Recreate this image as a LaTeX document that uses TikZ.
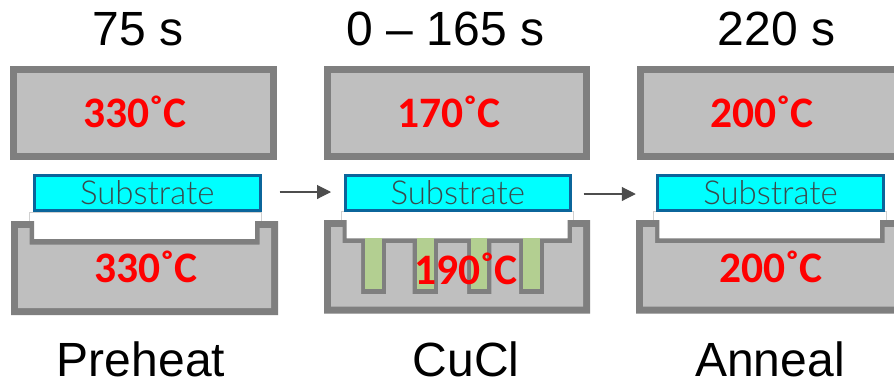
\documentclass[tikz,border=0pt]{standalone}
\usepackage{fontspec}
\setmainfont{Liberation Sans}
\newfontfamily\calib{Carlito}
\newfontfamily\sublight{Lato Light}
\usetikzlibrary{arrows.meta}
\definecolor{wallgray}{HTML}{7F7F7F}
\definecolor{bodygray}{HTML}{BFBFBF}
\definecolor{subedge}{HTML}{0B659B}
\definecolor{subfill}{HTML}{00FFFF}
\definecolor{subtext}{HTML}{3A4A4D}
\definecolor{slotgreen}{HTML}{B3CF91}
\definecolor{arrowgray}{HTML}{4D4D4D}
\definecolor{thinedge}{HTML}{D0D0D0}
\definecolor{pured}{HTML}{FF0000}
\tikzset{
  topbox/.style={draw=wallgray,fill=bodygray,line width=7pt,outer sep=0pt,inner sep=0pt,minimum height=87pt},
  subbox/.style={draw=subedge,fill=subfill,line width=3pt,outer sep=0pt,inner sep=0pt,minimum width=225.5pt,minimum height=35pt,
     font=\sublight\fontsize{33}{33}\selectfont,text=subtext},
  temp/.style={anchor=base,text=pured,inner sep=0pt,font=\calib\bfseries\fontsize{43.5}{43.5}\selectfont},
  head/.style={anchor=base,inner sep=0pt,font=\fontsize{48}{48}\selectfont},
  flow/.style={draw=arrowgray,line width=1.1pt,-{Triangle[length=14pt,width=14pt]}},
  outerwall/.style={fill=wallgray},
  innerbody/.style={fill=bodygray},
  thin/.style={draw=thinedge,line width=0.7pt},
  slot/.style={fill=slotgreen}
}
\begin{document}
\begin{tikzpicture}[x=1pt,y=-1pt]
\useasboundingbox (0,0) rectangle (894,381);
\clip (0,0) rectangle (894,381);
\fill[white] (0,0) rectangle (894,381);
% top boxes
\node[topbox,minimum width=260pt] (top1) at (143.5,113) {};
\node[topbox,minimum width=259pt] (top2) at (457,113) {};
\node[topbox,minimum width=259pt] (top3) at (770,113) {};
% lower body 1
\fill[outerwall] (11,221)--(34,221)--(34,239)--(255,239)--(255,221)--(278,221)--(278,315)--(11,315)--cycle;
\fill[innerbody] (18,228)--(29.5,228)--(29.5,244.5)--(259.5,244.5)--(259.5,228)--(271,228)--(271,308)--(18,308)--cycle;
\draw[thin] (29.5,221)--(29.5,212)--(261,212)--(261,221);
% lower body 2
\fill[outerwall] (324,220)--(346.7,220)--(346.7,238.3)--(567.7,238.3)--(567.7,220)--(590,220)--(590,313.5)--(324,313.5)--cycle;
\fill[innerbody] (331,227)--(342.5,227)--(342.5,243)--(361,243)--(361,294)--(386,294)--(386,243)--(412.7,243)--(412.7,294)--(438,294)--(438,243)--(467,243)--(467,294)--(491.3,294)--(491.3,243)--(519,243)--(519,294)--(544,294)--(544,243)--(572,243)--(572,227)--(583,227)--(583,306.5)--(331,306.5)--cycle;
\fill[slot] (365.3,238.3) rectangle (381.7,289.3);
\fill[slot] (417.3,238.3) rectangle (433.7,289.3);
\fill[slot] (471.3,238.3) rectangle (486.7,289.3);
\fill[slot] (523.3,238.3) rectangle (539.7,289.3);
\draw[thin] (341.5,220)--(341.5,211)--(573,211)--(573,220);
% lower body 3
\fill[outerwall] (636,220)--(659.3,220)--(659.3,238.3)--(880,238.3)--(880,220)--(903,220)--(903,313.5)--(636,313.5)--cycle;
\fill[innerbody] (643,227)--(655,227)--(655,243)--(884.5,243)--(884.5,227)--(896,227)--(896,306.5)--(643,306.5)--cycle;
\draw[thin] (653.3,220)--(653.3,211)--(886.5,211)--(886.5,220);
% substrates
\node[subbox] (sub1) at (147.25,193) {Substrate};
\node[subbox] (sub2) at (457.75,193) {Substrate};
\node[subbox] (sub3) at (770.5,193) {Substrate};
\draw[flow,shorten <=19.5pt,shorten >=14pt] ([yshift=1pt]sub1.east) -- ([yshift=1pt]sub2.west);
\draw[flow,shorten <=13pt,shorten >=22pt] ([yshift=-1pt]sub2.east) -- ([yshift=-1pt]sub3.west);
% temperatures
\node[temp] (t1) at (135,127) {330˚C};
\node[temp] (t2) at (449,127) {170˚C};
\node[temp] (t3) at (762,127) {200˚C};
\node[temp] (b1) at (146,282) {330˚C};
\node[temp] (b2) at (466,284) {190˚C};
\node[temp] (b3) at (771,282) {200˚C};
% headings
\node[head] (h1) at (138,45) {75 s};
\node[head] (h2) at (445.5,45) {0 – 165 s};
\node[head] (h3) at (776.5,45) {220 s};
\node[head] (c1) at (141,376) {Preheat};
\node[head] (c2) at (466,376) {CuCl};
\node[head] (c3) at (770,376) {Anneal};
\end{tikzpicture}
\end{document}
